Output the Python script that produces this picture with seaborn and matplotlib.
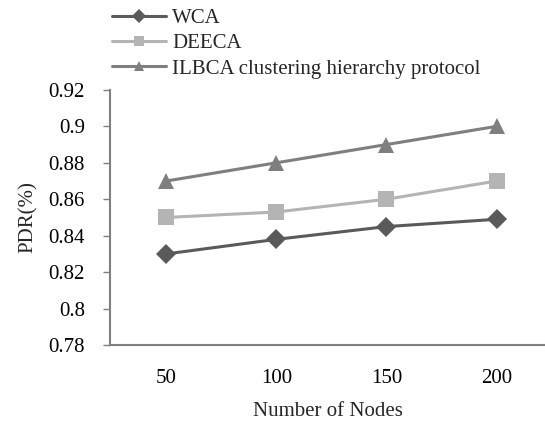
import matplotlib
matplotlib.use("Agg")
import matplotlib.pyplot as plt
import seaborn as sns
import pandas as pd

nodes = ["50", "100", "150", "200"]
wca = [0.830, 0.838, 0.845, 0.849]
deeca = [0.850, 0.853, 0.860, 0.870]
ilbca = [0.870, 0.880, 0.890, 0.900]
series_names = ["WCA", "DEECA", "ILBCA clustering hierarchy protocol"]
yticks = [0.78, 0.8, 0.82, 0.84, 0.86, 0.88, 0.9, 0.92]
ytick_labels = ["0.78", "0.8", "0.82", "0.84", "0.86", "0.88", "0.9", "0.92"]

sns.set_style("white")
plt.rcParams["font.family"] = ["Liberation Serif", "DejaVu Serif"]

df = pd.DataFrame({
    "Nodes": nodes * 3,
    "PDR": wca + deeca + ilbca,
    "Series": [series_names[0]] * 4 + [series_names[1]] * 4 + [series_names[2]] * 4,
})

colors = {series_names[0]: "#5a5a5a", series_names[1]: "#b4b4b4", series_names[2]: "#7f7f7f"}
markers = {series_names[0]: "D", series_names[1]: "s", series_names[2]: "^"}
msize = {series_names[0]: 10, series_names[1]: 11, series_names[2]: 11}

FS = 15

fig = plt.figure(figsize=(5.45, 4.26), dpi=100)
ax = fig.add_axes([0.202, 0.19, 0.798, 0.599])

for name in series_names:
    sub = df[df["Series"] == name]
    sns.lineplot(data=sub, x="Nodes", y="PDR", ax=ax, color=colors[name],
                 marker=markers[name], markersize=msize[name], markeredgewidth=0,
                 linewidth=2.2, label=name, sort=False)

ax.set_ylim(0.78, 0.92)
ax.set_xlim(-0.51, 3.44)
ax.set_yticks(yticks)
ax.set_yticklabels(ytick_labels)
ax.set_xlabel("Number of Nodes", fontsize=FS, labelpad=10)
ax.set_ylabel("PDR(%)", fontsize=FS, labelpad=8)
ax.tick_params(axis="both", labelsize=FS, colors="#000000")
ax.tick_params(axis="y", which="major", left=True, length=5, width=1, color="#808080", pad=13)
ax.tick_params(axis="x", which="major", bottom=False, pad=14)
for s in ["top", "right"]:
    ax.spines[s].set_visible(False)
for s in ["left", "bottom"]:
    ax.spines[s].set_color("#808080")
    ax.spines[s].set_linewidth(1.5)

leg = ax.legend(loc="upper left", frameon=False, fontsize=FS, markerscale=0.7,
                handlelength=2.6, handletextpad=0.3, labelspacing=0.28, borderaxespad=0)
leg.set_bbox_to_anchor((0.19, 1.0), transform=fig.transFigure)

fig.savefig("out.png", dpi=100)
